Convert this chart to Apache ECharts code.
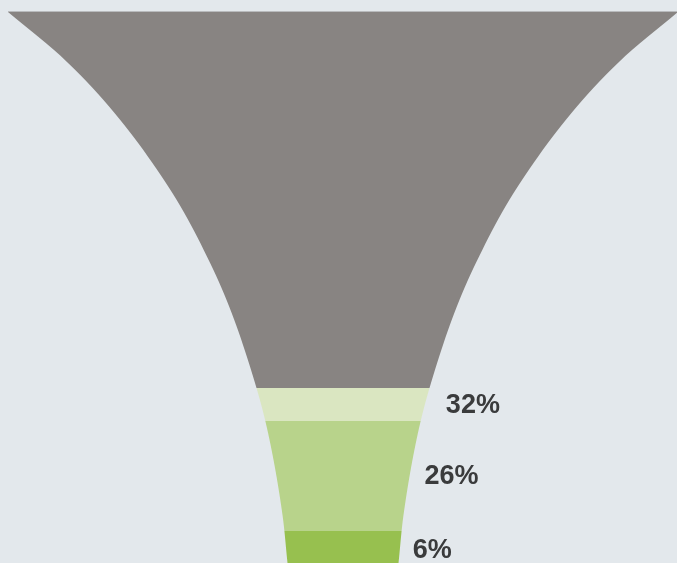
<!DOCTYPE html>
<html><head><meta charset="utf-8">
<script src="https://cdn.jsdelivr.net/npm/echarts@6/dist/echarts.min.js"></script>
<style>html,body{margin:0;padding:0;background:#e3e8ec}#c{width:677px;height:563px}</style>
</head><body><div id="c"></div>
<script>
// Funnel stages (depth measured from the funnel's top rim)
const stageNames = ['Total', 'Stage 1', 'Stage 2', 'Stage 3'];
const stageStart = [0, 376, 409, 519];
const stageEnd = [376, 409, 519, 556];
const stageLabels = ['', '32%', '26%', '6%'];
const stageColors = ['#888482', '#dae6c1', '#b8d38b', '#97c04f'];
// Funnel outline: depth -> half width
const profileDepth = [0, 48, 98, 178, 248, 298, 376, 423, 503, 551, 560];
const profileHalfWidth = [335, 278, 231, 172.5, 134.3, 112.5, 86.5, 74.5, 60.5, 55.5, 54.5];

// label styling (gap between funnel edge and label)
const labelGap = [0, 21, 15, 13];

// monotone cubic interpolation of the outline
const n = profileDepth.length;
const dk = [], mk = [];
for (let i = 0; i < n - 1; i++) dk.push((profileHalfWidth[i + 1] - profileHalfWidth[i]) / (profileDepth[i + 1] - profileDepth[i]));
mk.push(dk[0]);
for (let i = 1; i < n - 1; i++) mk.push(dk[i - 1] * dk[i] <= 0 ? 0 : (dk[i - 1] + dk[i]) / 2);
mk.push(dk[n - 2]);
function halfWidthAt(d) {
  let i = 0;
  while (i < n - 2 && d > profileDepth[i + 1]) i++;
  const h = profileDepth[i + 1] - profileDepth[i];
  const t = Math.max(0, Math.min(1, (d - profileDepth[i]) / h));
  const t2 = t * t, t3 = t2 * t;
  return (2 * t3 - 3 * t2 + 1) * profileHalfWidth[i] + (t3 - 2 * t2 + t) * h * mk[i]
    + (-2 * t3 + 3 * t2) * profileHalfWidth[i + 1] + (t3 - t2) * h * mk[i + 1];
}

const data = stageNames.map((name, i) => ({ name, value: [stageStart[i], stageEnd[i]] }));

const chart = echarts.init(document.getElementById('c'), null, { renderer: 'canvas' });
chart.setOption({
  backgroundColor: '#e3e8ec',
  animation: false,
  grid: { left: 0, right: 0, top: 12, bottom: 0 },
  xAxis: { type: 'value', min: -343, max: 334, show: false },
  yAxis: { type: 'value', min: 0, max: 551, inverse: true, show: false },
  series: [{
    type: 'custom',
    clip: false,
    encode: { y: [0, 1] },
    data: data,
    renderItem: function (params, api) {
      const i = params.dataIndex;
      const d0 = api.value(0), d1 = api.value(1);
      const N = 60;
      const right = [], left = [];
      for (let k = 0; k <= N; k++) {
        const d = d0 + (d1 - d0) * k / N;
        const hw = halfWidthAt(d);
        right.push(api.coord([hw, d]));
        left.unshift(api.coord([-hw, d]));
      }
      const children = [{
        type: 'polygon',
        shape: { points: right.concat(left) },
        style: { fill: stageColors[i] }
      }];
      if (i === 0) {
        const a = api.coord([-halfWidthAt(0), 0]);
        const b = api.coord([halfWidthAt(0), 0]);
        children.push({
          type: 'line',
          shape: { x1: a[0], y1: a[1] - 0.5, x2: b[0], y2: b[1] - 0.5 },
          style: { stroke: '#b9bbbd', lineWidth: 1 }
        });
      }
      if (stageLabels[i]) {
        const dm = (d0 + d1) / 2;
        const p = api.coord([halfWidthAt(dm), dm]);
        children.push({
          type: 'text',
          x: p[0] + labelGap[i],
          y: p[1] + 1,
          style: {
            text: stageLabels[i],
            fill: '#3a3b3c',
            font: 'bold 27px "Liberation Sans", Arial, sans-serif',
            textAlign: 'left',
            textVerticalAlign: 'middle'
          }
        });
      }
      return { type: 'group', children };
    }
  }]
});
</script>
</body></html>
